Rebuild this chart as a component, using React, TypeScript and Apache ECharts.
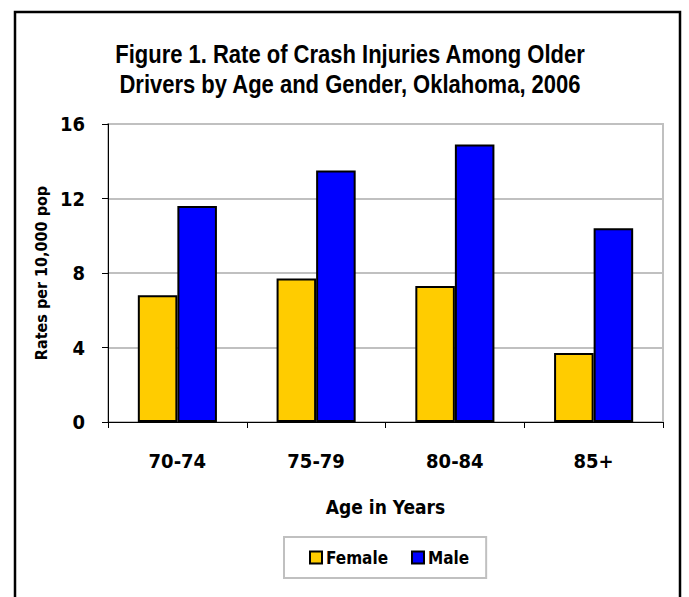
import React, { useEffect, useRef } from "react";
import * as echarts from "echarts";

const categories = ["70-74", "75-79", "80-84", "85+"];
const femaleValues = [6.8, 7.7, 7.3, 3.7];
const maleValues = [11.6, 13.5, 14.9, 10.4];
const seriesNames = ["Female", "Male"];
const yTicks = [0, 4, 8, 12, 16];
const titleText = "Figure 1. Rate of Crash Injuries Among Older\nDrivers by Age and Gender, Oklahoma, 2006";

const FONT = '"DejaVu Sans Condensed", "Liberation Sans", sans-serif';
const TITLE_FONT = '"Liberation Sans", Arial, sans-serif';

export default function App() {
  const ref = useRef<HTMLDivElement>(null);
  useEffect(() => {
    if (!ref.current) return;
    const chart = echarts.init(ref.current, undefined, { renderer: "svg" });
    chart.setOption({
      animation: false,
      backgroundColor: "#ffffff",
      graphic: [
        {
          type: "rect",
          shape: { x: 15, y: 12, width: 665, height: 640 },
          style: { fill: "none", stroke: "#000", lineWidth: 2.5 },
          silent: true,
        },
        {
          type: "text",
          x: 350,
          y: 40,
          scaleX: 0.88,
          style: {
            text: titleText,
            fontFamily: TITLE_FONT,
            fontSize: 25,
            fontWeight: "bold",
            fill: "#000",
            textAlign: "center",
            textVerticalAlign: "top",
            lineHeight: 30,
          },
          silent: true,
        },
      ],
      legend: {
        data: seriesNames,
        left: 284,
        top: 537,
        orient: "horizontal",
        itemWidth: 12,
        itemHeight: 12,
        itemGap: 23,
        icon: "rect",
        padding: [12, 17, 12, 25],
        borderColor: "#c0c0c0",
        borderWidth: 2,
        textStyle: { fontFamily: FONT, fontSize: 17, fontWeight: "bold", color: "#000", padding: [0, 0, 0, -1] },
      },
      grid: {
        left: 108,
        right: 689 - 663,
        top: 124,
        bottom: 597 - 422,
        show: true,
        borderColor: "#c0c0c0",
        borderWidth: 2,
        backgroundColor: "#ffffff",
      },
      xAxis: {
        type: "category",
        data: categories,
        name: "Age in Years",
        nameLocation: "middle",
        nameGap: 75,
        nameTextStyle: { fontFamily: FONT, fontSize: 19, fontWeight: "bold", color: "#000" },
        axisLine: { show: true, lineStyle: { color: "#000", width: 1 } },
        axisTick: { show: true, length: 6, lineStyle: { color: "#000" } },
        axisLabel: { margin: 29, fontFamily: FONT, fontSize: 20, fontWeight: "bold", color: "#000" },
        splitLine: { show: false },
      },
      yAxis: {
        type: "value",
        min: yTicks[0],
        max: yTicks[yTicks.length - 1],
        interval: 4,
        name: "Rates per 10,000 pop",
        nameLocation: "middle",
        nameRotate: 90,
        nameGap: 57,
        nameTextStyle: { fontFamily: FONT, fontSize: 16, fontWeight: "bold", color: "#000" },
        axisLine: { show: true, lineStyle: { color: "#000", width: 1 } },
        axisTick: { show: true, length: 6, lineStyle: { color: "#000" } },
        axisLabel: { margin: 23, fontFamily: FONT, fontSize: 20, fontWeight: "bold", color: "#000" },
        splitLine: { show: true, lineStyle: { color: "#c0c0c0", width: 2 } },
      },
      series: [
        {
          name: seriesNames[0],
          type: "bar",
          data: femaleValues,
          barGap: "0%",
          barCategoryGap: "43%",
          itemStyle: { color: "#FFCC00", borderColor: "#000", borderWidth: 2 },
        },
        {
          name: seriesNames[1],
          type: "bar",
          data: maleValues,
          barGap: "0%",
          barCategoryGap: "43%",
          itemStyle: { color: "#0000FF", borderColor: "#000", borderWidth: 2 },
        },
      ],
    });
    return () => chart.dispose();
  }, []);
  return (
    <div
      ref={ref}
      style={{ position: "fixed", left: 0, top: 0, width: 689, height: 597 }}
    />
  );
}
